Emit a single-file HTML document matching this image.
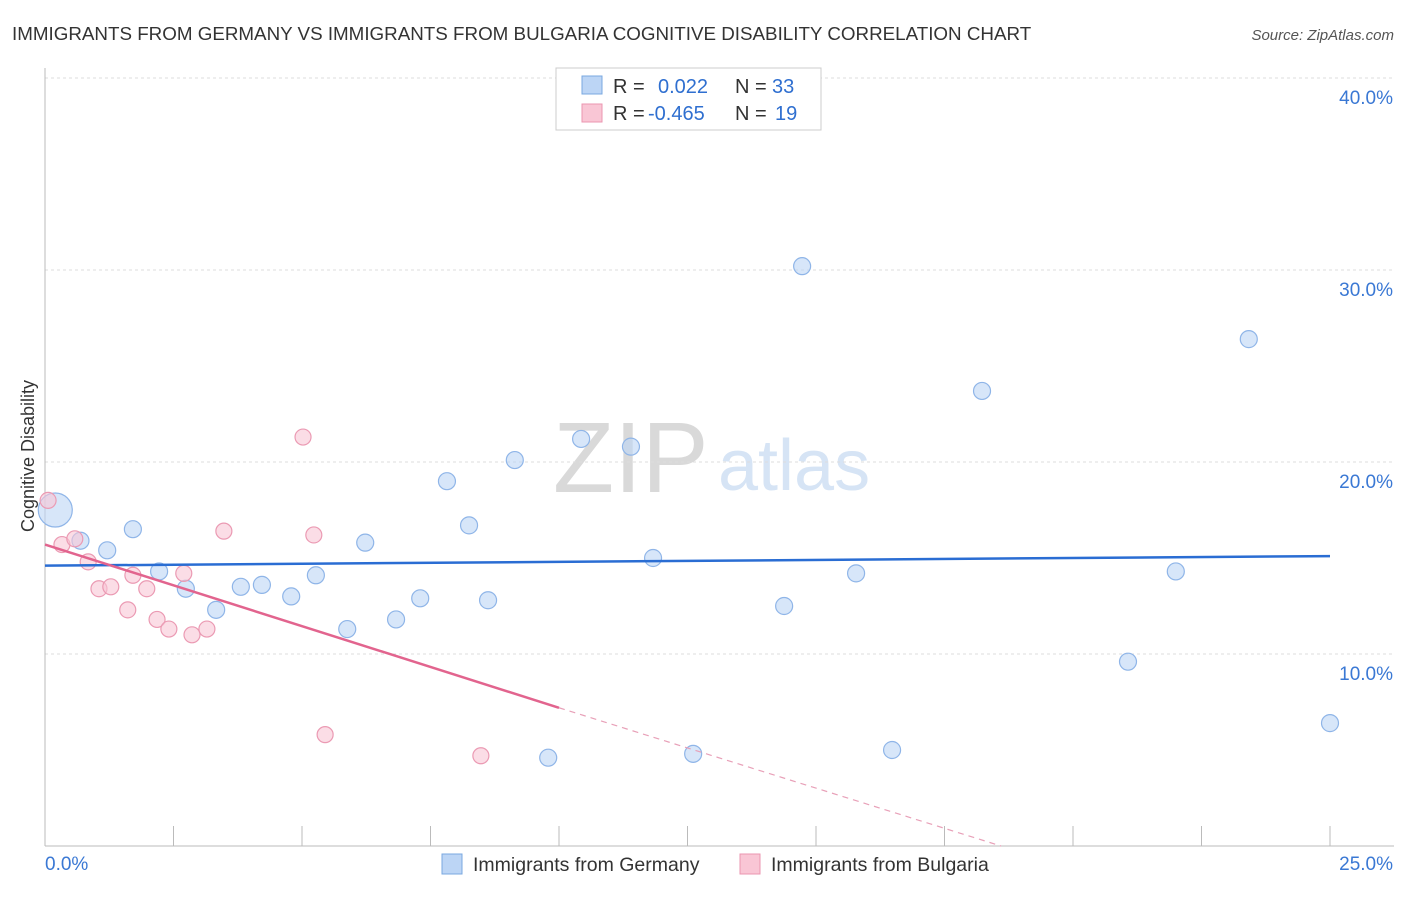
<!DOCTYPE html>
<html><head><meta charset="utf-8"><style>
body{margin:0;background:#fff;font-family:"Liberation Sans",sans-serif;}
svg text{font-family:"Liberation Sans",sans-serif;}
</style></head><body>
<svg id="c" width="1406" height="892">
<text x="12" y="40" font-size="18.8" fill="#333">IMMIGRANTS FROM GERMANY VS IMMIGRANTS FROM BULGARIA COGNITIVE DISABILITY CORRELATION CHART</text>
<text x="1394" y="40" font-size="15" fill="#555" font-style="italic" text-anchor="end">Source: ZipAtlas.com</text>
<text x="34" y="456" font-size="18" fill="#333" text-anchor="middle" transform="rotate(-90 34 456)">Cognitive Disability</text>
<text x="553" y="492" font-size="100" fill="#d9d9d9" font-family="Liberation Serif">ZIP</text>
<text x="718" y="490" font-size="72" fill="#d6e4f5">atlas</text>
<g id="grid"></g><g id="marks"></g>
<g>
<rect x="556" y="68" width="265" height="62" fill="#fff" stroke="#ccc"/>
<rect x="582" y="76" width="20" height="18" fill="#bcd5f5" stroke="#7aa8e0"/>
<rect x="582" y="104" width="20" height="18" fill="#f9c6d5" stroke="#eb96b0"/>
<text x="613" y="93" font-size="20" fill="#333">R = <tspan fill="#2f6fd0" x="658">0.022</tspan><tspan x="735" fill="#333">N = </tspan><tspan fill="#2f6fd0" x="772">33</tspan></text>
<text x="613" y="120" font-size="20" fill="#333">R = <tspan fill="#2f6fd0" x="648">-0.465</tspan><tspan x="735" fill="#333">N = </tspan><tspan fill="#2f6fd0" x="775">19</tspan></text>
</g>
<g>
<rect x="442" y="854" width="20" height="20" fill="#bcd5f5" stroke="#7aa8e0"/>
<text x="473" y="871" font-size="19.5" fill="#333">Immigrants from Germany</text>
<rect x="740" y="854" width="20" height="20" fill="#f9c6d5" stroke="#eb96b0"/>
<text x="771" y="871" font-size="19.5" fill="#333">Immigrants from Bulgaria</text>
</g>
</svg>
<script>
const yTicks=[10,20,30,40];
const germanyX=[0.2,0.69,1.21,1.71,2.22,2.74,3.33,3.81,4.22,4.79,5.27,5.88,6.23,6.83,7.3,7.82,8.25,8.62,9.14,9.79,10.43,11.4,11.83,12.61,14.38,14.73,15.78,16.48,18.23,21.07,22.0,23.42,25.0];
const germanyY=[17.5,15.9,15.4,16.5,14.3,13.4,12.3,13.5,13.6,13.0,14.1,11.3,15.8,11.8,12.9,19.0,16.7,12.8,20.1,4.6,21.2,20.8,15.0,4.8,12.5,30.2,14.2,5.0,23.7,9.6,14.3,26.4,6.4];
const bulgariaX=[0.06,0.33,0.58,0.84,1.05,1.28,1.61,1.71,1.98,2.18,2.41,2.7,2.86,3.15,3.48,5.02,5.23,5.45,8.48];
const bulgariaY=[18.0,15.7,16.0,14.8,13.4,13.5,12.3,14.1,13.4,11.8,11.3,14.2,11.0,11.3,16.4,21.3,16.2,5.8,4.7];
const germanyTrend=[[0,14.6],[25,15.1]];
const bulgariaTrend=[[0,15.7],[10,7.2],[18.6,0]];
const X=v=>45+v*51.4, Y=v=>846-v*19.2;
const ns='http://www.w3.org/2000/svg';
function mk(t,a,p){const e=document.createElementNS(ns,t);for(const k in a)e.setAttribute(k,a[k]);p.appendChild(e);return e;}
const g=document.getElementById('grid'),m=document.getElementById('marks');
yTicks.forEach(t=>{const l=mk('line',{x1:45,x2:1394,y1:Y(t),y2:Y(t),stroke:'#ddd','stroke-dasharray':'3,3'},g);


const tx=mk('text',{x:1393,y:Y(t)+26,'font-size':19,fill:'#3a78d4','text-anchor':'end'},g);tx.textContent=t.toFixed(1)+'%';

});
mk('line',{x1:45,x2:45,y1:68,y2:846,stroke:'#bbb'},g);
mk('line',{x1:45,x2:1394,y1:846,y2:846,stroke:'#bbb'},g);
for(let i=0;i<=10;i++){const t=mk('line',{x1:X(i*2.5),x2:X(i*2.5),y1:826,y2:846,stroke:'#bbb'},g);

}
const x0=mk('text',{x:45,y:870,'font-size':19,fill:'#3a78d4'},g);x0.textContent='0.0%';


const x1=mk('text',{x:1393,y:870,'font-size':19,fill:'#3a78d4','text-anchor':'end'},g);x1.textContent='25.0%';


germanyX.forEach((v,i)=>{const c=mk('circle',{cx:X(v),cy:Y(germanyY[i]),r:i==0?17:8.5,fill:'rgba(188,213,245,0.6)',stroke:'#8fb5e8','stroke-width':1.2},m);

});
bulgariaX.forEach((v,i)=>{const c=mk('circle',{cx:X(v),cy:Y(bulgariaY[i]),r:8,fill:'rgba(249,198,213,0.6)',stroke:'#eb9ab3','stroke-width':1.2},m);

});
const bt=mk('line',{x1:X(germanyTrend[0][0]),y1:Y(germanyTrend[0][1]),x2:X(germanyTrend[1][0]),y2:Y(germanyTrend[1][1]),stroke:'#2a6dd3','stroke-width':2.5},m);


const pt=mk('line',{x1:X(bulgariaTrend[0][0]),y1:Y(bulgariaTrend[0][1]),x2:X(bulgariaTrend[1][0]),y2:Y(bulgariaTrend[1][1]),stroke:'#e2648e','stroke-width':2.5},m);


const pd=mk('line',{x1:X(bulgariaTrend[1][0]),y1:Y(bulgariaTrend[1][1]),x2:X(bulgariaTrend[2][0]),y2:Y(bulgariaTrend[2][1]),stroke:'#e8a0b8','stroke-width':1.2,'stroke-dasharray':'6,5'},m);


</script>
</body></html>
